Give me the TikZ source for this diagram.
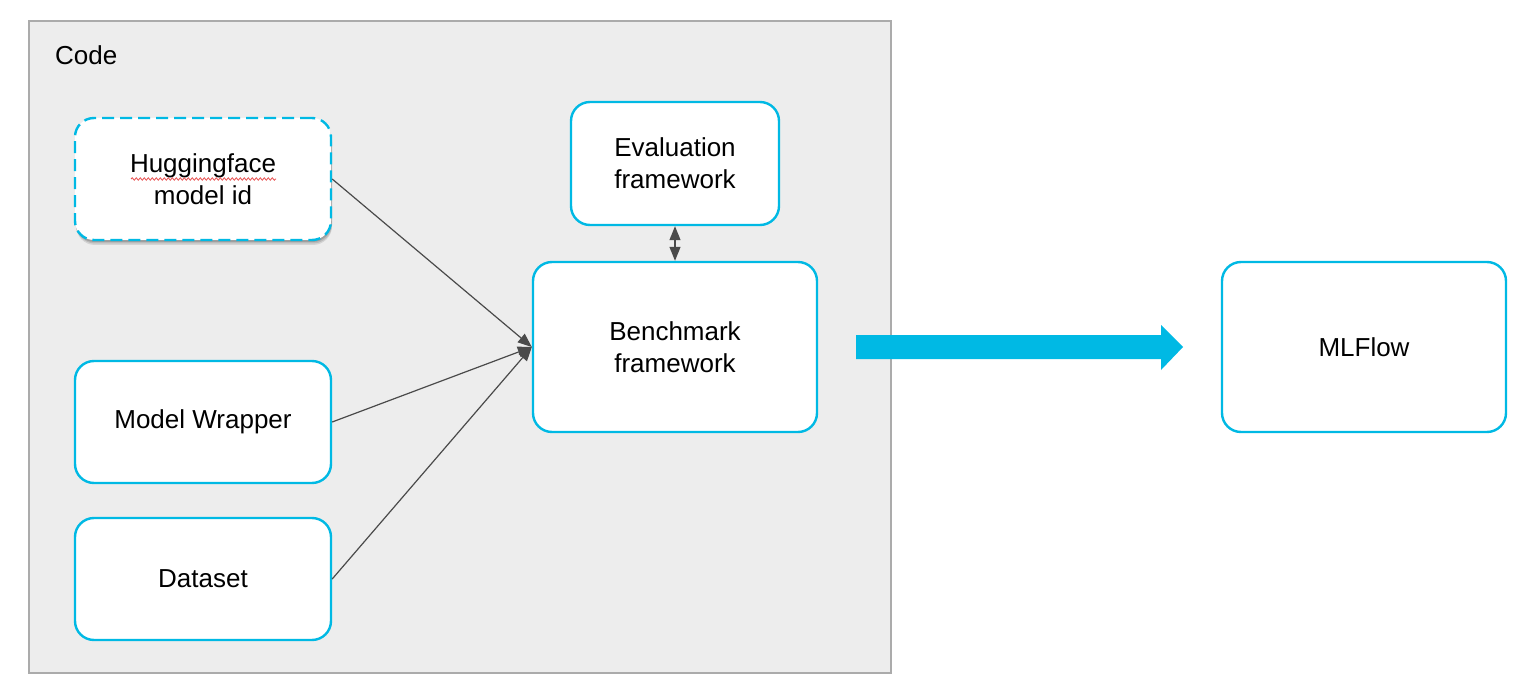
\documentclass[tikz,border=0pt]{standalone}
\usepackage{fontspec}
\setmainfont{Liberation Sans}
\usetikzlibrary{shadows,arrows.meta,decorations.pathmorphing}
\definecolor{cyanb}{HTML}{00B9E4}
\definecolor{codebg}{HTML}{EDEDED}
\definecolor{framegray}{HTML}{ABABAB}
\definecolor{conncol}{HTML}{4A4A4A}
\definecolor{spellred}{HTML}{E85050}
\tikzset{
  box/.style={draw=cyanb, line width=2.4pt, fill=white, rounded corners=19pt,
    align=center, inner sep=0pt, font=\fontsize{26}{32}\selectfont},
  softshadow/.style={
    preaction={draw=none, fill=black, opacity=0.10, transform canvas={xshift=1pt, yshift=-5pt}},
    preaction={draw=none, fill=black, opacity=0.12, transform canvas={xshift=1pt, yshift=-3.5pt}},
    preaction={draw=none, fill=black, opacity=0.15, transform canvas={xshift=0.5pt, yshift=-2pt}}},
  hbox/.style={box, dash pattern=on 12pt off 6pt, softshadow},
  tip/.tip={Triangle[length=14pt,width=11pt]},
  conn/.style={draw=conncol, line width=1.2pt, -tip},
  dconn/.style={draw=conncol, line width=1.2pt, tip-tip},
}
\begin{document}
\begin{tikzpicture}[x=1pt,y=-1pt]
\useasboundingbox (0,0) rectangle (1518,695);
\fill[white] (0,0) rectangle (1518,695);
% code frame
\draw[fill=codebg, draw=framegray, line width=1.5pt] (29,21) rectangle (891,673);
\node[anchor=base west, inner sep=0pt, font=\fontsize{26}{32}\selectfont] (codelbl) at (55,65) {Code};
% nodes
\node[hbox, minimum width=256pt, minimum height=122pt] (hf) at (203,179) {Huggingface\\model id};
\node[box, minimum width=256pt, minimum height=122pt] (mw) at (203,422) {Model Wrapper};
\node[box, minimum width=256pt, minimum height=122pt] (ds) at (203,579) {Dataset};
\node[box, minimum width=208pt, minimum height=123pt] (ev) at (675,163.5) {Evaluation\\framework};
\node[box, minimum width=284pt, minimum height=170pt] (bm) at (675,347) {Benchmark\\framework};
\node[box, minimum width=284pt, minimum height=170pt] (ml) at (1364,347) {MLFlow};
% spell-check underline
\draw[spellred, line width=0.8pt, decorate, decoration={snake, amplitude=1.2pt, segment length=4pt}] (131,179) -- (276,179);
% connectors
\draw[conn] (hf.east) -- (bm.west);
\draw[conn] (mw.east) -- (bm.west);
\draw[conn] (ds.east) -- (bm.west);
\draw[dconn] (ev.south) -- (bm.north);
% big arrow
\fill[cyanb] (856,335) -- (1161,335) -- (1161,325) -- (1183,347) -- (1161,370) -- (1161,359) -- (856,359) -- cycle;
\end{tikzpicture}
\end{document}
